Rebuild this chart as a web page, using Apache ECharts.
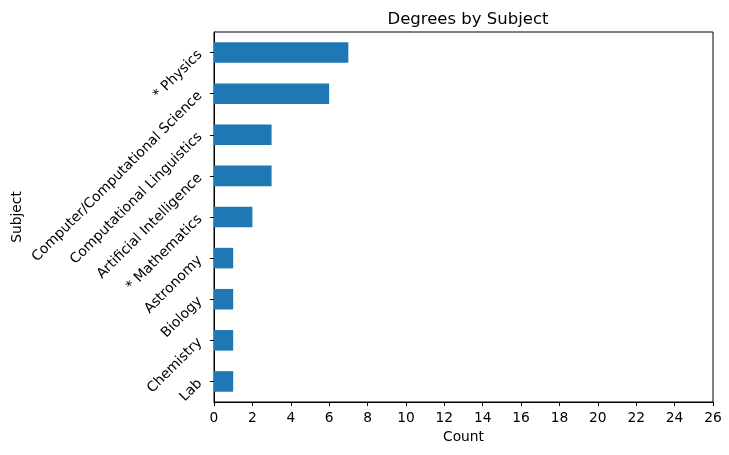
<!DOCTYPE html>
<html><head><meta charset="utf-8">
<script src="https://cdn.jsdelivr.net/npm/echarts@6/dist/echarts.min.js"></script>
<style>html,body{margin:0;padding:0;background:#fff}#c{width:729px;height:455px}</style>
</head><body><div id="c"></div>
<script>
const categories = ["Lab", "Chemistry", "Biology", "Astronomy", "* Mathematics", "Artificial Intelligence", "Computational Linguistics", "Computer/Computational Science", "* Physics"];
const counts = [1, 1, 1, 1, 2, 3, 3, 6, 7];
const xMin = 0, xMax = 26, xStep = 2;
const font = "DejaVu Sans";
const chart = echarts.init(document.getElementById('c'));
chart.setOption({
  animation: false,
  title: {text: "Degrees by Subject", left: 463, top: 6, textAlign: 'center',
    textStyle: {fontFamily: font, fontSize: 16.5, fontWeight: 'normal', color: '#000'}},
  grid: {left: 214, right: 16, top: 32, bottom: 53, show: true, borderColor: '#000', borderWidth: 1,
    containLabel: false, outerBoundsMode: 'none'},
  xAxis: {type: 'value', min: xMin, max: xMax, interval: xStep,
    name: "Count", nameLocation: 'middle', nameGap: 28, nameMoveOverlap: false,
    nameTextStyle: {fontFamily: font, fontSize: 13.8, color: '#000'},
    axisLine: {show: true, lineStyle: {color: '#000'}},
    axisTick: {show: true, length: 4, lineStyle: {color: '#000'}},
    axisLabel: {fontFamily: font, fontSize: 13.8, color: '#000', margin: 9},
    splitLine: {show: false}},
  yAxis: {type: 'category', data: categories,
    name: "Subject", nameLocation: 'middle', nameGap: 190, nameRotate: 90, nameMoveOverlap: false,
    nameTextStyle: {fontFamily: font, fontSize: 13.8, color: '#000'},
    axisLine: {show: true, lineStyle: {color: '#000'}},
    axisTick: {show: true, alignWithLabel: true, length: 4, lineStyle: {color: '#000'}},
    axisLabel: {fontFamily: font, fontSize: 13.9, color: '#000', rotate: 45, margin: 14, interval: 0}},
  series: [{type: 'bar', data: counts, barWidth: '50%', itemStyle: {color: '#1f77b4'}}]
});
</script></body></html>
